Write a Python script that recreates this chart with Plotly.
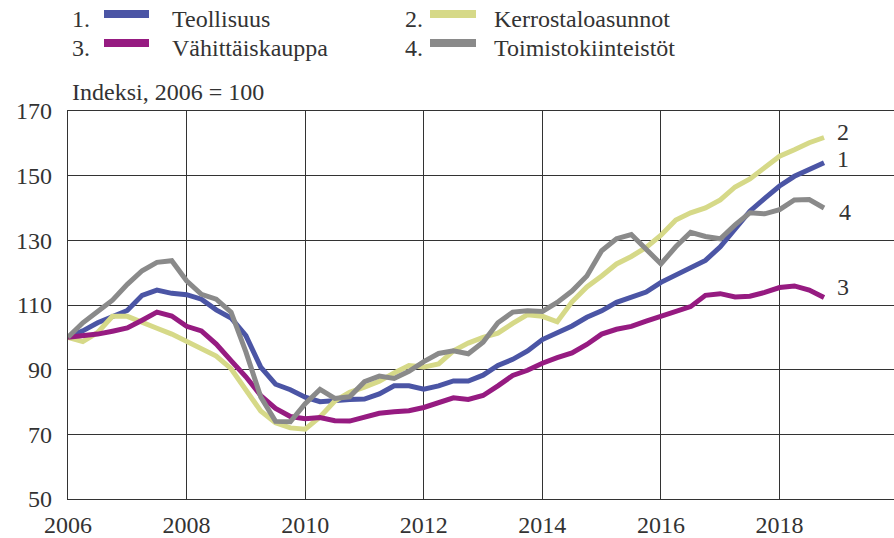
import plotly.graph_objects as go

# quarterly index, 2006Q1 .. 2018Q4 (2006 = 100)
quarters = [2006 + q / 4 for q in range(52)]

teollisuus = [100, 102, 104.5, 106.4, 108.3, 113, 114.6, 113.6, 113.2, 111.8, 108.5, 106,
              100.5, 90.8, 85.5, 83.8, 81.5, 80.1, 80.6, 80.8, 80.9, 82.5, 85, 85,
              84, 85, 86.5, 86.5, 88.3, 91.3, 93.2, 95.8, 99.3, 101.5, 103.5, 106.2,
              108.2, 110.8, 112.4, 114, 117, 119.3, 121.2, 123.8, 128, 133.7, 139, 143,
              146.8, 149.8, 152, 154]
kerrostalo = [100, 98.7, 101.5, 106.5, 106.5, 104.5, 102.8, 101, 98.8, 96.3, 94.2, 90.3,
              84, 77.2, 73.6, 72, 71.6, 75.4, 80.3, 83, 84.6, 86.4, 89, 91.3,
              90.8, 91.8, 95.8, 98.2, 100, 101.3, 104.3, 107, 106.5, 104.8, 111, 115.6,
              119, 122.7, 125, 127.8, 131.6, 136.3, 138.5, 140, 142.5, 146.5, 149, 152.7,
              156, 158, 160.2, 161.8]
vahittais = [100, 100.4, 101, 101.9, 102.9, 105.3, 107.8, 106.6, 103.4, 102, 97.9, 92.8,
             87.8, 82, 78, 75.5, 74.8, 75.2, 74.2, 74.1, 75.4, 76.5, 77, 77.3,
             78.3, 79.9, 81.3, 80.8, 82, 85, 88.2, 89.8, 92, 93.7, 95.2, 97.8,
             101, 102.5, 103.4, 105, 106.4, 107.8, 109.5, 113, 113.5, 112.5, 112.7, 113.9,
             115.4, 115.9, 114.6, 112.3]
toimisto = [100, 104.5, 108, 111.5, 116.4, 120.6, 123.2, 123.7, 117.5, 113.3, 111.8, 107.8,
            95.5, 81.6, 74, 73.9, 79.5, 83.9, 81.1, 81.6, 86.3, 88, 87.3, 89.5,
            92.5, 95, 95.8, 94.9, 98.5, 104.5, 107.8, 108.2, 108, 110.8, 114.3, 119,
            126.8, 130.5, 131.8, 127.5, 122.7, 128, 132.5, 131.2, 130.5, 134.8, 138.5, 138.2,
            139.5, 142.5, 142.6, 140]

names = ['Teollisuus', 'Kerrostaloasunnot', 'Vähittäiskauppa', 'Toimistokiinteistöt']
nums = ['1', '2', '3', '4']
colors = ['#4b55a5', '#d6d988', '#961b81', '#8a8a8a']
series = [teollisuus, kerrostalo, vahittais, toimisto]
end_dy = [1.1, 1.8, 3.4, -1.1]   # label offset from last value
end_dx = [11, 11, 11, 13]

FONT = '"Liberation Serif", "Times New Roman", Times, serif'
TXT = '#333333'

W, H = 894, 538
L, R, T, B = 68, 0, 111, 39
pw, ph = W - L - R, H - T - B


def px(x):
    return (x - L) / pw


def py(y):
    return (H - B - y) / ph


fig = go.Figure()
for name, col, ys in zip(names, colors, series):
    fig.add_trace(go.Scatter(x=quarters, y=ys, name=name, mode='lines',
                             line=dict(color=col, width=5), showlegend=False))

annotations = []
shapes = []
# end labels
for n, ys, dy, dx in zip(nums, series, end_dy, end_dx):
    annotations.append(dict(x=quarters[-1], y=ys[-1] + dy, text=n, showarrow=False,
                            xanchor='left', yanchor='middle', xshift=dx,
                            font=dict(family=FONT, size=24, color=TXT)))

# hand-made legend, two columns: (number x, swatch x0, swatch x1, text x)
leg_cols = [(70, 104, 149, 170), (403, 430, 476, 492)]
leg_rows = [19, 48]
for i, (n, name, col) in enumerate(zip(nums, names, colors)):
    nx, sx0, sx1, tx = leg_cols[i % 2]
    y0 = leg_rows[i // 2]
    annotations.append(dict(x=px(nx), y=py(y0), xref='paper', yref='paper', text=n + '.',
                            showarrow=False, xanchor='left', yanchor='middle',
                            font=dict(family=FONT, size=24, color=TXT)))
    shapes.append(dict(type='line', xref='paper', yref='paper',
                       x0=px(sx0), x1=px(sx1), y0=py(y0 - 5), y1=py(y0 - 5),
                       line=dict(color=col, width=8)))
    annotations.append(dict(x=px(tx), y=py(y0), xref='paper', yref='paper', text=name,
                            showarrow=False, xanchor='left', yanchor='middle',
                            font=dict(family=FONT, size=24, color=TXT)))

annotations.append(dict(x=px(70), y=py(92), xref='paper', yref='paper',
                        text='Indeksi, 2006 = 100', showarrow=False,
                        xanchor='left', yanchor='middle',
                        font=dict(family=FONT, size=24, color=TXT)))

fig.update_layout(
    width=W, height=H,
    margin=dict(l=L, r=R, t=T, b=B),
    plot_bgcolor='white', paper_bgcolor='white',
    font=dict(family=FONT, size=24, color=TXT),
    annotations=annotations, shapes=shapes,
)
fig.update_xaxes(range=[2006, 2019.93], tick0=2006, dtick=2, showgrid=True,
                 gridcolor='#333333', gridwidth=1.4, showline=True, mirror=True,
                 linecolor='#333333', linewidth=1.4, ticks='', zeroline=False,
                 ticklabelstandoff=4)
fig.update_yaxes(range=[50, 170], tick0=50, dtick=20, showgrid=True,
                 gridcolor='#333333', gridwidth=1.4, showline=True,
                 linecolor='#333333', linewidth=1.4, ticks='', zeroline=False,
                 ticklabelstandoff=10)

fig.write_html("out.html", config={'displayModeBar': False},
               post_script="document.body.style.margin='0';")
